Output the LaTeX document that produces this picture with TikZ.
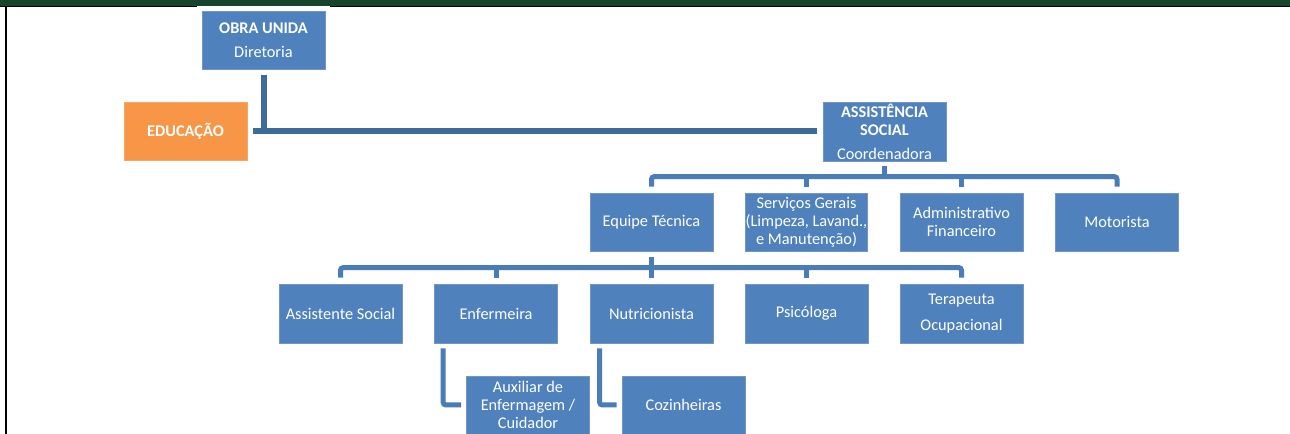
\documentclass[tikz,border=0pt]{standalone}
\usepackage{fontspec}
\setmainfont{Carlito}
\definecolor{boxblue}{HTML}{4F81BD}
\definecolor{boxedge}{HTML}{7396C8}
\definecolor{orangebox}{HTML}{F79646}
\definecolor{connA}{HTML}{3F6B9A}
\definecolor{connB}{HTML}{4A7CB8}
\definecolor{topgreen}{HTML}{18442C}
\tikzset{
  orgbox/.style={rectangle, fill=boxblue, draw=boxedge, line width=0.5pt,
    minimum width=92.25pt, minimum height=43.5pt, inner sep=0pt,
    text=white, align=center, font=\fontsize{12.25}{13.4}\selectfont},
  orgorange/.style={orgbox, fill=orangebox, draw=orangebox!85!white},
  mainlink/.style={draw=connA, line width=4.5pt},
  buslink/.style={draw=connB, line width=3.75pt, rounded corners=2pt},
}
\begin{document}
\begin{tikzpicture}[x=0.75pt,y=-0.75pt]
\useasboundingbox (0,0) rectangle (1290,434);
\fill[white] (0,0) rectangle (1290,434);
% frame
\fill[topgreen] (0,0) rectangle (1290,5.6);
\fill[black] (0,5.6) rectangle (1290,7.4);
\fill[white] (197,5.6) rectangle (330,7.6);
\fill[black] (5,5.6) rectangle (7,434);

% boxes
\node[orgbox] (obra) at (263.5,40) {\textbf{OBRA UNIDA}\\[4.6pt]Diretoria};
\node[orgorange] (edu) at (185.5,131) {\textbf{EDUCAÇÃO}};
\node[orgbox, minimum height=44.25pt] (assist) at (884.5,131.5) {\textbf{ASSISTÊNCIA}\\\textbf{SOCIAL}\\[4.6pt]Coordenadora};

\node[orgbox] (equipe) at (651.5,222) {Equipe Técnica};
\node[orgbox, minimum width=90.75pt] (serv) at (806.5,222) {Serviços Gerais\\(Limpeza, Lavand.,\\e Manutenção)};
\node[orgbox] (adm) at (961.5,222) {Administrativo\\Financeiro};
\node[orgbox] (moto) at (1117,222) {Motorista};

\node[orgbox, minimum height=44.25pt] (as) at (340.5,313.5) {Assistente Social};
\node[orgbox, minimum height=44.25pt] (enf) at (496,313.5) {Enfermeira};
\node[orgbox, minimum height=44.25pt] (nut) at (651.5,313.5) {Nutricionista};
\node[orgbox, minimum height=44.25pt] (psi) at (806.5,313.5) {Psicóloga};
\node[orgbox, minimum height=44.25pt] (ter) at (961.5,313.5) {Terapeuta\\[6pt]Ocupacional};

\node[orgbox] (aux) at (528,405) {Auxiliar de\\Enfermagem /\\Cuidador};
\node[orgbox] (coz) at (683.5,405) {Cozinheiras};

% top connectors
\draw[mainlink] ([yshift=-4.5pt]obra.south) -- (obra.south |- edu.east);
\draw[mainlink] ([xshift=4.5pt]edu.east) -- ([xshift=-4.5pt]assist.west |- edu.east);

% second level bus
\coordinate (busA) at ([yshift=12pt]equipe.north);
\draw[buslink] ([yshift=-3.75pt]assist.south) -- (busA -| assist.south);
\draw[buslink] ([yshift=4.5pt]equipe.north) -- (busA) -- (busA -| moto.north) -- ([yshift=4.5pt]moto.north);
\draw[buslink] ([yshift=4.5pt]serv.north) -- (busA -| serv.north);
\draw[buslink] ([yshift=4.5pt]adm.north) -- (busA -| adm.north);

% third level bus
\coordinate (busB) at ([yshift=12pt]nut.north);
\draw[buslink] ([yshift=-4.5pt]equipe.south) -- (busB -| equipe.south);
\draw[buslink] ([yshift=4.5pt]as.north) -- (busB -| as.north) -- (busB -| ter.north) -- ([yshift=4.5pt]ter.north);
\draw[buslink] ([yshift=4.5pt]enf.north) -- (busB -| enf.north);
\draw[buslink] ([yshift=4.5pt]nut.north) -- (busB);
\draw[buslink] ([yshift=4.5pt]psi.north) -- (busB -| psi.north);

% elbows
\draw[buslink] ([xshift=6.75pt,yshift=-3.75pt]enf.south west) |- ([xshift=-3.75pt]aux.west);
\draw[buslink] ([xshift=7.5pt,yshift=-3.75pt]nut.south west) |- ([xshift=-3.75pt]coz.west);
\end{tikzpicture}
\end{document}
